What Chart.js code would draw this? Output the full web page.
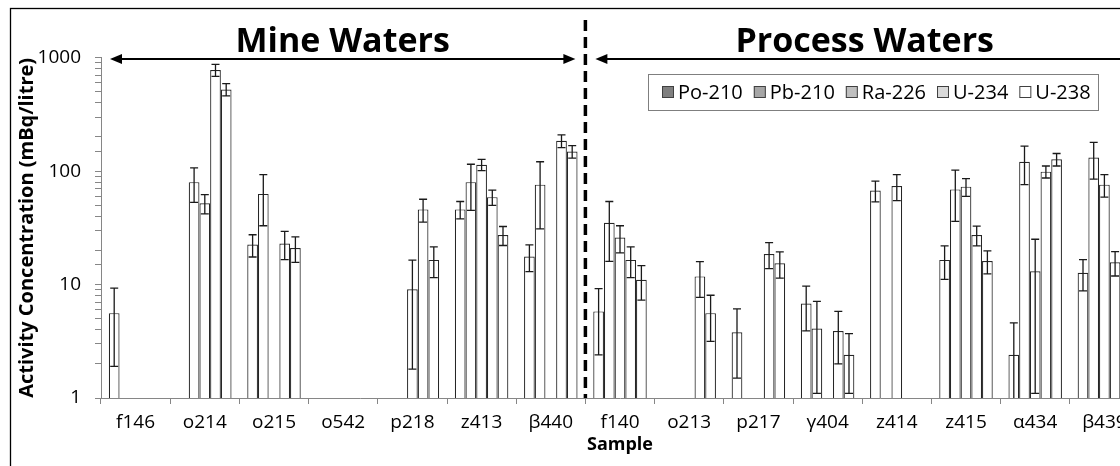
<!DOCTYPE html>
<html>
<head>
<meta charset="utf-8">
<title>Activity Concentration by Sample</title>
<script src="https://cdn.jsdelivr.net/npm/chart.js"></script>
<style>
  body { margin: 0; background: #fff; overflow: hidden; }
  .wrap { position: relative; width: 1150px; height: 466px; }
</style>
</head>
<body>
<div class="wrap"><canvas id="activityChart"></canvas></div>
<script>
// samples: first 7 are mine waters, the rest process waters
const samples = ['f146', 'o214', 'o215', 'o542', 'p218', 'z413', 'β440',
                 'f140', 'o213', 'p217', 'γ404', 'z414', 'z415', 'α434', 'β439'];
const mineCount = 7;

// activity (mBq/litre) and +/- uncertainty per nuclide
const po210    = [5.6, null, 22.5, null, null, 46, 17.7, 5.8, null, 3.8, 6.8, 67.5, 16.5, 2.4, 12.7];
const po210Err = [3.7, null, 5, null, null, 8, 4.7, 3.4, null, 2.3, 2.9, 14, 5.4, 2.2, 3.9];
const pb210    = [null, 80, 63, null, null, 80, 76, 35, null, null, 4.1, null, 69, 121, 132];
const pb210Err = [null, 27, 30, null, null, 35, 45, 19, null, null, 3, null, 33, 45, 47];
const ra226    = [null, 52, null, null, 9.1, 114, null, 26, null, null, null, 74, 73, 13.1, 76];
const ra226Err = [null, 10, null, null, 7.3, 13, null, 7, null, null, null, 19, 13, 12, 17];
const u234     = [null, 780, 23, null, 46, 59, 185, 16.5, 11.8, 18.6, 3.9, null, 27.3, 99, 15.7];
const u234Err  = [null, 95, 6.4, null, 10.5, 9, 24, 5, 4.1, 4.8, 1.9, null, 5.4, 12, 3.8];
const u238     = [null, 525, 21, null, 16.5, 27.3, 149, 11, 5.6, 15.4, 2.4, null, 16.1, 127, 11.5];
const u238Err  = [null, 65, 5.3, null, 5, 5.2, 19, 3.7, 2.45, 4, 1.3, null, 3.7, 16, 3];

const seriesNames = ['Po-210', 'Pb-210', 'Ra-226', 'U-234', 'U-238'];
const legendFills = ['#7f7f7f', '#a6a6a6', '#bfbfbf', '#d9d9d9', '#ffffff'];
const yMajor = [1, 10, 100, 1000];

const values = [po210, pb210, ra226, u234, u238];
const errors = [po210Err, pb210Err, ra226Err, u234Err, u238Err];

const datasets = seriesNames.map((name, i) => ({
    label: name,
    data: values[i],
    errors: errors[i],
    backgroundColor: '#ffffff',
    borderColor: '#262626',
    borderWidth: 1.2,
    barPercentage: 1,
    categoryPercentage: 0.773
}));

function arrow(ctx, x1, x2, y, head) {
    ctx.beginPath();
    ctx.moveTo(x1 + 8, y);
    ctx.lineTo(x2 - 8, y);
    ctx.stroke();
    [[x1, 1], [x2, -1]].forEach(([x, d]) => {
        ctx.beginPath();
        ctx.moveTo(x, y);
        ctx.lineTo(x + d * head, y - 5);
        ctx.lineTo(x + d * head, y + 5);
        ctx.closePath();
        ctx.fill();
    });
}

// error bars, section divider, headings and legend
const extras = {
    id: 'extras',
    afterDatasetsDraw(chart) {
        const ctx = chart.ctx, y = chart.scales.y, area = chart.chartArea;
        ctx.save();
        ctx.strokeStyle = '#1a1a1a';
        ctx.lineWidth = 1.3;
        chart.data.datasets.forEach((ds, i) => {
            chart.getDatasetMeta(i).data.forEach((bar, j) => {
                const v = ds.data[j], e = ds.errors[j];
                if (v == null || e == null) return;
                const top = y.getPixelForValue(v + e);
                const low = v - e;
                const bot = low > y.min ? y.getPixelForValue(low) : area.bottom;
                ctx.beginPath();
                ctx.moveTo(bar.x, top);
                ctx.lineTo(bar.x, bot);
                ctx.moveTo(bar.x - 4, top);
                ctx.lineTo(bar.x + 4, top);
                if (low > y.min) {
                    ctx.moveTo(bar.x - 4, bot);
                    ctx.lineTo(bar.x + 4, bot);
                }
                ctx.stroke();
            });
        });
        ctx.restore();
    },
    afterDraw(chart) {
        const ctx = chart.ctx, x = chart.scales.x, area = chart.chartArea;
        const divX = (x.getPixelForValue(mineCount - 1) + x.getPixelForValue(mineCount)) / 2;
        ctx.save();

        // outer frame
        ctx.strokeStyle = '#000';
        ctx.lineWidth = 1.3;
        ctx.strokeRect(10.5, 8.5, 1300, 600);

        // dashed divider between the two groups
        ctx.setLineDash([11, 6]);
        ctx.lineWidth = 3.5;
        ctx.beginPath();
        ctx.moveTo(divX, 20);
        ctx.lineTo(divX, area.bottom);
        ctx.stroke();
        ctx.setLineDash([]);

        // span arrows
        const arrowY = 59;
        ctx.lineWidth = 2;
        ctx.fillStyle = '#000';
        const mineL = area.left + 9, mineR = divX - 10;
        const procL = divX + 10, procR = area.right - 5;
        arrow(ctx, mineL, mineR, arrowY, 12);
        arrow(ctx, procL, procR, arrowY, 12);

        ctx.font = 'bold 34px "Open Sans"';
        ctx.textAlign = 'center';
        ctx.textBaseline = 'alphabetic';
        ctx.fillText('Mine Waters', (mineL + mineR) / 2, 52);
        ctx.fillText('Process Waters', (procL + procR) / 2, 52);

        // legend
        const lx = 648, ly = 74, lw = 450, lh = 36;
        ctx.fillStyle = '#fff';
        ctx.fillRect(lx, ly, lw, lh);
        ctx.strokeStyle = '#7f7f7f';
        ctx.lineWidth = 1;
        ctx.strokeRect(lx + 0.5, ly + 0.5, lw, lh);
        ctx.font = '20px "Open Sans"';
        ctx.textAlign = 'left';
        ctx.textBaseline = 'middle';
        let cx = 662;
        seriesNames.forEach((name, i) => {
            ctx.fillStyle = legendFills[i];
            ctx.fillRect(cx, ly + 12, 12, 12);
            ctx.strokeStyle = '#404040';
            ctx.strokeRect(cx + 0.5, ly + 12.5, 11, 11);
            ctx.fillStyle = '#000';
            ctx.fillText(name, cx + 16, ly + lh / 2 + 1);
            cx += 16 + ctx.measureText(name).width + 11;
        });
        ctx.restore();
    }
};

new Chart(document.getElementById('activityChart'), {
    type: 'bar',
    data: { labels: samples, datasets: datasets },
    plugins: [extras],
    options: {
        responsive: true,
        maintainAspectRatio: false,
        animation: false,
        layout: { padding: { left: 12, top: 57.7, right: 11, bottom: 0 } },
        plugins: {
            legend: { display: false },
            tooltip: { enabled: false }
        },
        scales: {
            x: {
                offset: true,
                grid: { offset: true, drawOnChartArea: false, drawTicks: true, tickLength: 6, color: '#868686' },
                border: { color: '#868686', width: 1 },
                ticks: { color: '#000', font: { family: 'Open Sans', size: 19 }, padding: 7, maxRotation: 0, autoSkip: false },
                title: { display: true, text: 'Sample', color: '#000',
                         font: { family: 'Open Sans', size: 18, weight: 'bold' }, padding: { top: 0, bottom: 10 } },
                afterFit(scale) { scale.height = 68; }
            },
            y: {
                type: 'logarithmic',
                min: 1,
                max: 1000,
                grid: { drawOnChartArea: false, drawTicks: true, tickLength: 6, color: '#868686' },
                border: { color: '#868686', width: 1 },
                ticks: {
                    color: '#000',
                    font: { family: 'Open Sans', size: 19 },
                    padding: 14,
                    autoSkip: false,
                    callback: v => yMajor.includes(v) ? String(v) : ''
                },
                title: { display: true, text: 'Activity Concentration (mBq/litre)', color: '#000',
                         font: { family: 'Open Sans', size: 20, weight: 'bold' }, padding: { top: 3, bottom: 0 } },
                afterFit(scale) { scale.width = 89; }
            }
        }
    }
});
</script>
</body>
</html>
